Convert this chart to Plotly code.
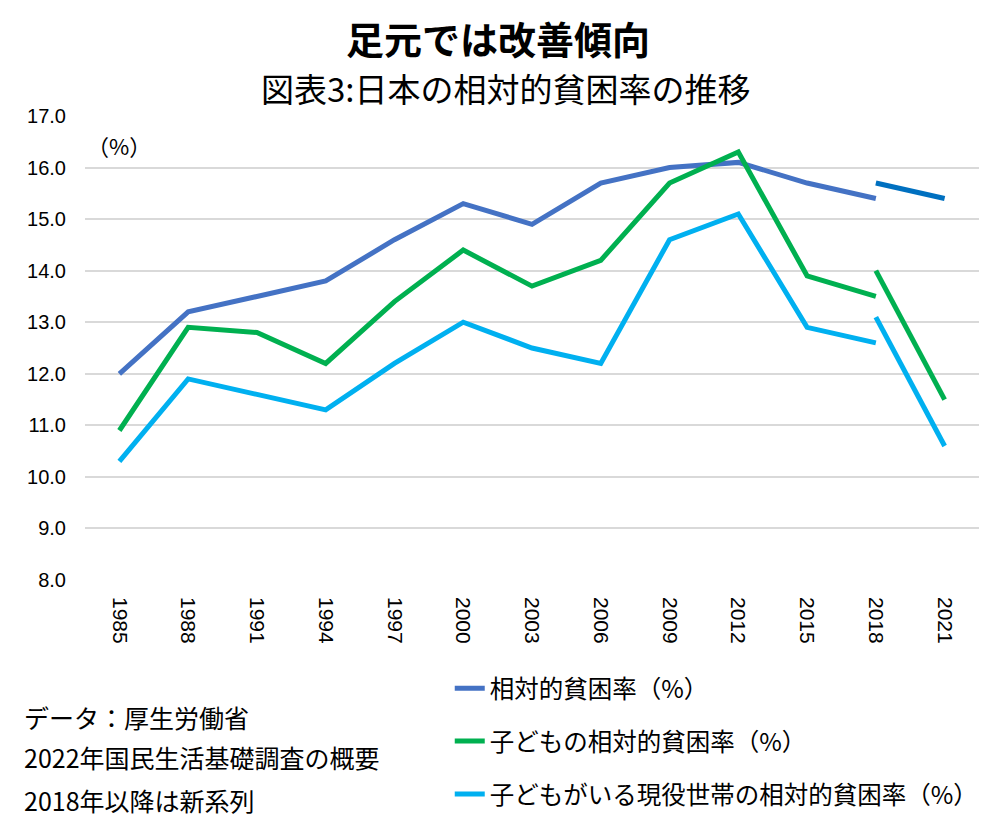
import plotly.graph_objects as go

years = ["1985", "1988", "1991", "1994", "1997", "2000", "2003", "2006",
         "2009", "2012", "2015", "2018", "2021"]
old_years = years[:12]
new_years = ["2018", "2021"]

rel_old = [12.0, 13.2, 13.5, 13.8, 14.6, 15.3, 14.9, 15.7, 16.0, 16.1, 15.7, 15.4]
rel_new = [15.7, 15.4]
child_old = [10.9, 12.9, 12.8, 12.2, 13.4, 14.4, 13.7, 14.2, 15.7, 16.3, 13.9, 13.5]
child_new = [14.0, 11.5]
hh_old = [10.3, 11.9, 11.6, 11.3, 12.2, 13.0, 12.5, 12.2, 14.6, 15.1, 12.9, 12.6]
hh_new = [13.1, 10.6]

names = ["相対的貧困率（%）", "子どもの相対的貧困率（%）", "子どもがいる現役世帯の相対的貧困率（%）"]
colors_old = ["#4472C4", "#00B050", "#00B0F0"]
colors_new = ["#0070C0", "#00B050", "#00B0F0"]

FONT = "Noto Sans CJK JP, Liberation Sans, sans-serif"
NUMFONT = "Liberation Sans, sans-serif"

fig = go.Figure()
pairs = [(rel_old, rel_new), (child_old, child_new), (hh_old, hh_new)]
for i, (o, n) in enumerate(pairs):
    fig.add_trace(go.Scatter(x=old_years, y=o, mode="lines", name=names[i],
                             legendgroup=f"g{i}",
                             line=dict(color=colors_old[i], width=5)))
for i, (o, n) in enumerate(pairs):
    fig.add_trace(go.Scatter(x=new_years, y=n, mode="lines", name=names[i] + "新系列",
                             legendgroup=f"g{i}", showlegend=False,
                             line=dict(color=colors_new[i], width=5)))

fig.update_layout(
    width=1000, height=825,
    margin=dict(l=77, r=29, t=108, b=253),
    paper_bgcolor="white", plot_bgcolor="white",
    font=dict(family=FONT, color="#000000", size=20),
    showlegend=True,
    legend=dict(x=0.408, y=-0.185, xanchor="left", yanchor="top",
                font=dict(size=24.5, family=FONT), tracegroupgap=18,
                bgcolor="rgba(0,0,0,0)"),
    xaxis=dict(type="category", categoryorder="array", categoryarray=years,
               range=[-0.5, 12.5],
               tickangle=90, showgrid=False, showline=False, ticks="",
               tickfont=dict(size=21, family=NUMFONT),
               ticklabelstandoff=16),
    yaxis=dict(range=[8, 17], dtick=1, tickformat=".1f", showgrid=True,
               gridcolor="#D9D9D9", gridwidth=1.5, zeroline=False, showline=False,
               ticks="", tickfont=dict(size=20, family=NUMFONT),
               ticklabelstandoff=18),
)

fig.add_annotation(text="<b>足元では改善傾向</b>", xref="paper", yref="paper",
                   x=0.5, y=1.0, xanchor="center", yanchor="middle",
                   xshift=-34, yshift=116 - 37, showarrow=False,
                   font=dict(size=38, family=FONT))
fig.add_annotation(text="図表3:日本の相対的貧困率の推移", xref="paper", yref="paper",
                   x=0.5, y=1.0, xanchor="center", yanchor="middle",
                   xshift=-26, yshift=116 - 88, showarrow=False,
                   font=dict(size=33, family=FONT))
fig.add_annotation(text="（%）", xref="paper", yref="paper", x=0.0, y=1.0,
                   xanchor="left", yanchor="middle", xshift=0, yshift=-29,
                   showarrow=False, font=dict(size=22, family=FONT))

notes = ["データ：厚生労働省", "2022年国民生活基礎調査の概要", "2018年以降は新系列"]
note_y = [717, 757, 800]
for t, yy in zip(notes, note_y):
    fig.add_annotation(text=t, xref="paper", yref="paper", x=0.0, y=0.0,
                       xanchor="left", yanchor="middle", xshift=22 - 85,
                       yshift=-(yy - 580), showarrow=False,
                       font=dict(size=25, family=FONT))

fig.write_html("out.html")
